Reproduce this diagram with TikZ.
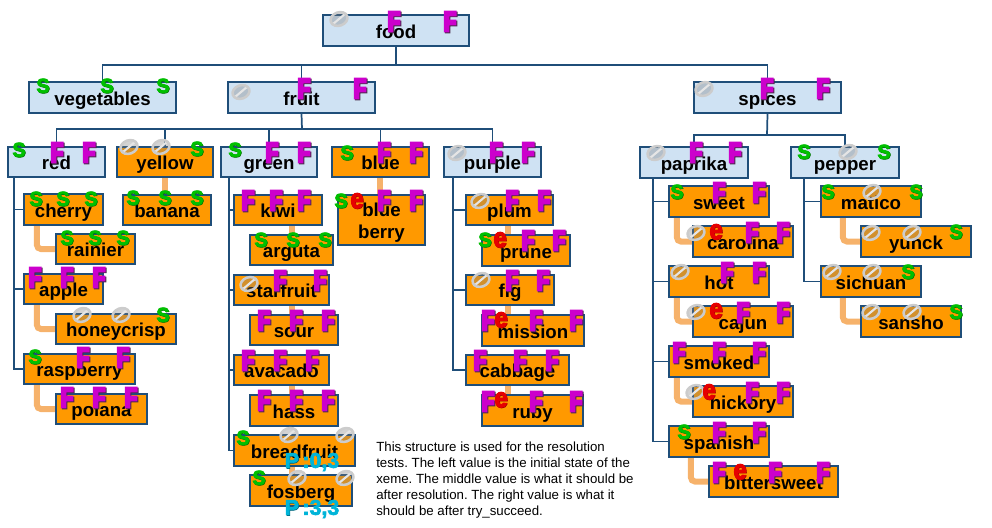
\documentclass[tikz,border=0pt]{standalone}
\usepackage{fontspec}
\setmainfont{Liberation Sans}
\newfontfamily\markfont[FakeBold=9,FakeStretch=0.72]{Liberation Sans Bold}
\newfontfamily\wmarkfont[FakeBold=3]{Liberation Sans Bold}
\newfontfamily\emarkfont[FakeBold=3,FakeStretch=0.85]{Liberation Sans Bold}
\usetikzlibrary{backgrounds,shapes.geometric}
\definecolor{navy1}{HTML}{1F4E79}
\definecolor{cat1}{HTML}{CFE2F3}
\definecolor{leaf1}{HTML}{FF9900}
\definecolor{link1}{HTML}{F6B26B}
\definecolor{green1}{HTML}{00C000}
\definecolor{mag1}{HTML}{CC00CC}
\definecolor{red1}{HTML}{E60000}
\definecolor{cyan1}{HTML}{00B4D8}
\definecolor{shade1}{HTML}{4A2A4A}
\tikzset{
  catbox/.style={draw=navy1,line width=1.6pt,fill=cat1,inner sep=0pt,align=center,font=\fontsize{14}{17}\selectfont\bfseries},
  leafbox/.style={catbox,fill=leaf1},
  branch/.style={draw=navy1,line width=1.3pt},
  linkline/.style={draw=link1,line width=4.5pt,rounded corners=3pt},
  markF/.style={inner sep=0pt},
  markS/.style={inner sep=0pt},
  markE/.style={inner sep=0pt},
  markO/.style={ellipse,draw=gray!40,line width=1.9pt,fill=gray,fill opacity=.35,draw opacity=1,
    minimum width=13pt,minimum height=10pt,inner sep=0pt,rotate=20,
    path picture={\draw[gray!20,line width=1.6pt,opacity=1] (path picture bounding box.south west)--(path picture bounding box.north east);}},
}
\newcommand{\glyphF}{\fontsize{21}{21}\markfont\rlap{\kern.7pt\raisebox{-.7pt}{\color{shade1}F}}\color{mag1}F}
\newcommand{\glyphS}{\fontsize{15}{15}\wmarkfont\rlap{\kern.4pt\raisebox{-.4pt}{\color{green1!60!black}S}}\color{green1}S}
\newcommand{\glyphE}{\fontsize{21}{21}\emarkfont\rlap{\kern.4pt\raisebox{-.4pt}{\color{red1!70!black}e}}\color{red1}e}
\newcommand{\glyphO}{}
\newcommand{\glyphP}{{\wmarkfont\rlap{\kern.5pt\raisebox{-.5pt}{\color{cyan1!60!black}P}}P}}
% box from its corners, then its marks
\newcommand{\xeme}[8]{
\pgfmathsetmacro{\bw}{(#4-#2)*.75}
\pgfmathsetmacro{\bh}{(#5-#3)*.75}
\node[text depth=1pt,#6,minimum width=\bw pt,minimum height=\bh pt] (#1) at ({(#2+#4)/2},{(#3+#5)/2}) {\raisebox{-1pt}{\begin{tabular}{@{}c@{}}#7\end{tabular}}};
\foreach \k/\mx/\my [count=\i] in {#8}
  \node[mark\k] (#1-\i) at (\mx,\my) {\csname glyph\k\endcsname};
}
\newcommand{\vlink}[3]{\draw[linkline] (#1.south west) ++(#3,0) coordinate (tmp) -- (tmp |- #2.north);}
\newcommand{\elink}[3]{\draw[linkline] (#1.south west) ++(#3,0) |- (#2.west);}
\begin{document}
\begin{tikzpicture}[x=0.75pt,y=-0.75pt]
\useasboundingbox (0,0) rectangle (992,528);
%% top
\xeme{food}{323}{15}{469}{46}{catbox}{food}{O/339/19,F/394/22,F/450/22}
\xeme{vegetables}{29}{82}{176}{113}{catbox}{vegetables}{S/43/86,S/107/86,S/163/86}
\xeme{fruit}{228}{82}{375}{113}{catbox}{fruit}{O/241/92,F/304/89,F/360/89}
\xeme{spices}{694}{82}{841}{113}{catbox}{spices}{O/704/89,F/767/89,F/823/89}
%% fruit
\xeme{red}{8}{147}{105}{177}{catbox}{red}{S/19/150,F/57/153,F/89/153}
\xeme{yellow}{117}{147}{213}{177}{leafbox}{yellow}{O/129/147,O/161/147,S/197/149}
\xeme{green}{221}{147}{317}{177}{catbox}{green}{S/235/150,F/272/153,F/304/153}
\xeme{blue}{332}{147}{429}{177}{leafbox}{blue}{S/347/153,F/384/153,F/416/153}
\xeme{purple}{444}{147}{541}{177}{catbox}{purple}{O/457/153,F/496/153,F/528/153}
\xeme{cherry}{24}{194}{103}{225}{leafbox}{cherry\hspace{5pt}}{S/36/199,S/63/199,S/91/199}
\xeme{rainier}{56}{234}{135}{264}{leafbox}{rainier\hspace{3pt}}{S/67/238,S/95/238,S/123/238}
\xeme{apple}{24}{274}{103}{304}{leafbox}{apple\hspace{9pt}}{F/35/278,F/67/278,F/99/278}
\xeme{honeycrisp}{56}{314}{176}{344}{leafbox}{honeycrisp\hspace{2pt}}{O/82/315,O/121/315,S/163/315}
\xeme{raspberry}{24}{354}{135}{384}{leafbox}{raspberry\hspace{6pt}}{S/35/357,F/83/358,F/123/358}
\xeme{polana}{56}{394}{147}{424}{leafbox}{polana\hspace{9pt}}{F/67/398,F/99/398,F/131/398}
\xeme{banana}{123}{195}{211}{225}{leafbox}{banana}{S/133/198,S/165/198,S/197/198}
\xeme{kiwi}{234}{195}{322}{225}{leafbox}{kiwi}{F/248/201,F/276/201,F/304/201}
\xeme{arguta}{250}{235}{333}{265}{leafbox}{arguta}{S/261/240,S/293/240,S/325/240}
\xeme{starfruit}{234}{275}{329}{305}{leafbox}{starfruit}{O/249/284,F/280/281,F/320/281}
\xeme{sour}{250}{315}{338}{345}{leafbox}{sour}{F/264/321,F/296/321,F/328/321}
\xeme{avacado}{234}{355}{329}{385}{leafbox}{avacado}{F/248/361,F/280/361,F/312/361}
\xeme{hass}{250}{395}{338}{426}{leafbox}{hass}{F/264/401,F/296/401,F/328/401}
\xeme{breadfruit}{234}{435}{355}{466}{leafbox}{breadfruit}{S/243/438,O/289/435,O/345/435}
\xeme{fosberg}{250}{475}{352}{506}{leafbox}{fosberg}{S/259/478,O/297/478,O/345/478}
\xeme{blueberry}{338}{195}{425}{245}{leafbox,text depth=10pt}{blue\\berry}{S/341/201,F/384/201,F/416/201,E/357/201}
\xeme{plum}{466}{195}{553}{225}{leafbox}{plum}{O/480/201,F/512/201,F/544/201}
\xeme{prune}{482}{235}{570}{266}{leafbox}{prune}{S/485/240,F/528/241,F/559/241,E/500/240}
\xeme{fig}{466}{275}{554}{305}{leafbox}{fig}{O/481/280,F/512/281,F/543/281}
\xeme{mission}{482}{315}{584}{346}{leafbox}{mission}{F/488/321,F/536/321,F/576/321,E/501/320}
\xeme{cabbage}{466}{355}{569}{385}{leafbox}{cabbage}{F/480/361,F/520/361,F/552/361}
\xeme{ruby}{482}{395}{583}{426}{leafbox}{ruby}{F/488/402,F/536/402,F/576/402,E/501/400}
%% spices
\xeme{paprika}{640}{147}{748}{178}{catbox}{paprika}{O/656/153,F/696/153,F/735/153}
\xeme{pepper}{791}{147}{899}{178}{catbox}{pepper}{S/804/152,O/848/152,S/884/152}
\xeme{sweet}{669}{186}{769}{217}{leafbox}{sweet}{S/677/192,F/719/193,F/759/193}
\xeme{carolina}{693}{226}{793}{257}{leafbox}{carolina}{O/696/233,F/752/233,F/783/233,E/716/232}
\xeme{hot}{669}{266}{769}{297}{leafbox}{hot}{O/680/272,F/727/273,F/759/273}
\xeme{cajun}{693}{306}{793}{337}{leafbox}{cajun}{O/696/312,F/743/313,F/783/313,E/716/311}
\xeme{smoked}{669}{346}{769}{377}{leafbox}{smoked}{F/679/353,F/719/353,F/759/353}
\xeme{hickory}{693}{386}{793}{417}{leafbox}{hickory}{O/695/392,F/752/393,F/783/393,E/709/392}
\xeme{spanish}{669}{426}{769}{457}{leafbox}{spanish}{S/684/432,F/719/433,F/759/433}
\xeme{bittersweet}{709}{466}{838}{497}{leafbox}{bittersweet}{F/719/473,F/775/473,F/823/473,E/740/472}
\xeme{matico}{821}{186}{921}{217}{leafbox}{matico}{S/828/192,O/872/192,S/916/192}
\xeme{yunck}{861}{226}{971}{257}{leafbox}{yunck}{O/871/233,O/912/233,S/956/232}
\xeme{sichuan}{821}{266}{921}{297}{leafbox}{sichuan}{O/832/272,O/872/272,S/908/272}
\xeme{sansho}{861}{306}{961}{337}{leafbox}{sansho}{O/871/312,O/912/312,S/956/312}
%% pairs and trunks
\begin{pgfonlayer}{background}
\elink{cherry}{rainier}{14}
\elink{apple}{honeycrisp}{14}
\elink{raspberry}{polana}{14}
\vlink{yellow}{banana}{49}
\vlink{blue}{blueberry}{49}
\vlink{kiwi}{arguta}{59}
\vlink{starfruit}{sour}{59}
\vlink{avacado}{hass}{59}
\vlink{breadfruit}{fosberg}{59}
\vlink{plum}{prune}{43}
\vlink{fig}{mission}{43}
\vlink{cabbage}{ruby}{43}
\elink{sweet}{carolina}{9}
\elink{hot}{cajun}{9}
\elink{smoked}{hickory}{9}
\elink{spanish}{bittersweet}{23}
\elink{matico}{yunck}{23}
\elink{sichuan}{sansho}{23}
\coordinate (busfood) at (396,65);
\coordinate (busfruit) at (302,129);
\coordinate (busspices) at (767,135);
\draw[branch] (food.south) -- (busfood);
\draw[branch] (vegetables.north) |- (busfood);
\draw[branch] (fruit.north) |- (busfood);
\draw[branch] (spices.north) |- (busfood);
\draw[branch] (fruit.south) -- (busfruit);
\foreach \n in {red,yellow,green,blue,purple}
  \draw[branch] (\n.north) |- (busfruit);
\draw[branch] (spices.south) -- (busspices);
\foreach \n in {paprika,pepper}
  \draw[branch] (\n.north) |- (busspices);
\coordinate (trunkred) at (14,177);
\coordinate (trunkgreen) at (229,177);
\coordinate (trunkpurple) at (453,177);
\coordinate (trunkpaprika) at (653,178);
\coordinate (trunkpepper) at (804,178);
\foreach \n in {cherry,apple,raspberry}
  \draw[branch] (trunkred) |- (\n.west);
\foreach \n in {kiwi,starfruit,avacado,breadfruit}
  \draw[branch] (trunkgreen) |- (\n.west);
\foreach \n in {plum,fig,cabbage}
  \draw[branch] (trunkpurple) |- (\n.west);
\foreach \n in {sweet,hot,smoked,spanish}
  \draw[branch] (trunkpaprika) |- (\n.west);
\foreach \n in {matico,sichuan}
  \draw[branch] (trunkpepper) |- (\n.west);
\end{pgfonlayer}
%% counters and note
\node[inner sep=0pt,text=cyan1,font=\fontsize{16}{16}\selectfont\wmarkfont] (count0) at (312,462) {\glyphP\,:0,3};
\node[inner sep=0pt,text=cyan1,font=\fontsize{16}{16}\selectfont\wmarkfont] (count3) at (312,509) {\glyphP\,:3,3};
\node[anchor=north west,inner sep=0pt,align=left,font=\fontsize{9.95}{12}\selectfont\frenchspacing] (note) at (376,442) {This structure is used for the resolution\\tests. The left value is the initial state of the\\xeme. The middle value is what it should be\\after resolution. The right value is what it\\should be after try\_succeed.};
\end{tikzpicture}
\end{document}
